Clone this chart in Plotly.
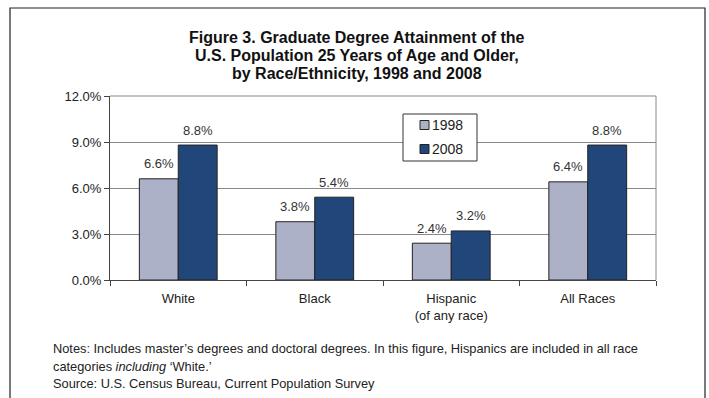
import plotly.graph_objects as go

categories = ["White", "Black", "Hispanic<br>(of any race)", "All Races"]
years = ["1998", "2008"]
values_1998 = [6.6, 3.8, 2.4, 6.4]
values_2008 = [8.8, 5.4, 3.2, 8.8]
ytick_vals = [0, 3, 6, 9, 12]
title_lines = ["Figure 3. Graduate Degree Attainment of the",
               "U.S. Population 25 Years of Age and Older,",
               "by Race/Ethnicity, 1998 and 2008"]
note_lines = ["Notes: Includes master\u2019s degrees and doctoral degrees. In this figure, Hispanics are included in all race",
              "categories <i>including</i> \u2018White.\u2019",
              "Source: U.S. Census Bureau, Current Population Survey"]

colors = {"1998": "#adb1c8", "2008": "#21477a"}
FONT = "Liberation Sans, Arial, sans-serif"

W0, W1 = 110, 656
T0, B0 = 96, 280
def px(x):
    return (x - W0) / (W1 - W0)
def py(y):
    return (B0 - y) / (B0 - T0)

BARGAP = 0.43
cat_px = (W1 - W0) / len(categories)
bar_px = cat_px * (1 - BARGAP) / 2

fig = go.Figure()
annotations = []
for i, (yr, vals) in enumerate(zip(years, [values_1998, values_2008])):
    fig.add_trace(go.Bar(
        x=categories, y=vals, name=yr, showlegend=False,
        marker=dict(color=colors[yr], line=dict(color="#222222", width=1)),
        hovertemplate="%{x}: %{y:.1f}%<extra>" + yr + "</extra>",
    ))
    shift = (i - 0.5) * bar_px
    for c, v in zip(categories, vals):
        annotations.append(dict(text=f"{v:.1f}%", x=c, y=v, xref="x", yref="y",
                                xshift=shift, yshift=15, xanchor="center", yanchor="middle",
                                showarrow=False, font=dict(size=13, color="#333333", family=FONT)))

shapes = [
    dict(type="rect", xref="paper", yref="paper", x0=px(10), x1=px(705), y0=py(420), y1=py(8),
         line=dict(color="#222222", width=1.2), fillcolor="rgba(0,0,0,0)", layer="below"),
    dict(type="line", xref="paper", yref="paper", x0=0, x1=1, y0=1, y1=1, line=dict(color="#888888", width=1)),
    dict(type="line", xref="paper", yref="paper", x0=1, x1=1, y0=0, y1=1, line=dict(color="#888888", width=1)),
    # legend box
    dict(type="rect", xref="paper", yref="paper", x0=px(403), x1=px(477), y0=py(161), y1=py(114),
         line=dict(color="#333333", width=1), fillcolor="white", layer="above"),
]
for yr, yc in zip(years, [125, 149]):
    shapes.append(dict(type="rect", xref="paper", yref="paper", x0=px(420), x1=px(429),
                       y0=py(yc + 4.5), y1=py(yc - 4.5),
                       line=dict(color="#222222", width=1), fillcolor=colors[yr], layer="above"))
    annotations.append(dict(text=yr, xref="paper", yref="paper", x=px(430), y=py(yc),
                            xanchor="left", yanchor="middle", showarrow=False,
                            font=dict(size=14, color="#222222", family=FONT)))

for line, yc in zip(title_lines, [37, 55, 73]):
    annotations.append(dict(text=f"<b>{line}</b>", xref="paper", yref="paper", x=px(357), y=py(yc),
                            xanchor="center", yanchor="middle", showarrow=False,
                            font=dict(size=16, color="#111111", family=FONT)))
for line, yc in zip(note_lines, [348, 366, 383]):
    annotations.append(dict(text=line, xref="paper", yref="paper", x=px(51), y=py(yc),
                            xanchor="left", yanchor="middle", showarrow=False,
                            font=dict(size=12.8, color="#222222", family=FONT)))

fig.update_layout(
    width=709, height=398,
    margin=dict(l=W0, r=709 - W1, t=T0, b=398 - B0),
    paper_bgcolor="white", plot_bgcolor="white",
    barmode="group", bargap=BARGAP, bargroupgap=0,
    font=dict(family=FONT, size=13, color="#222222"),
    showlegend=False,
    shapes=shapes, annotations=annotations,
)
fig.update_yaxes(range=[0, 12], tickvals=ytick_vals, ticktext=[f"{v:.1f}%" for v in ytick_vals],
                 showgrid=True, gridcolor="#888888", gridwidth=1,
                 showline=True, linecolor="#444444", linewidth=1,
                 ticks="outside", ticklen=5, tickcolor="#444444",
                 tickfont=dict(size=13, color="#222222"), zeroline=False)
fig.update_xaxes(showline=True, linecolor="#444444", linewidth=1,
                 ticks="outside", tickson="boundaries", ticklen=5, tickcolor="#444444",
                 ticklabelstandoff=6,
                 tickfont=dict(size=13, color="#222222"))

fig.write_html("out.html")
